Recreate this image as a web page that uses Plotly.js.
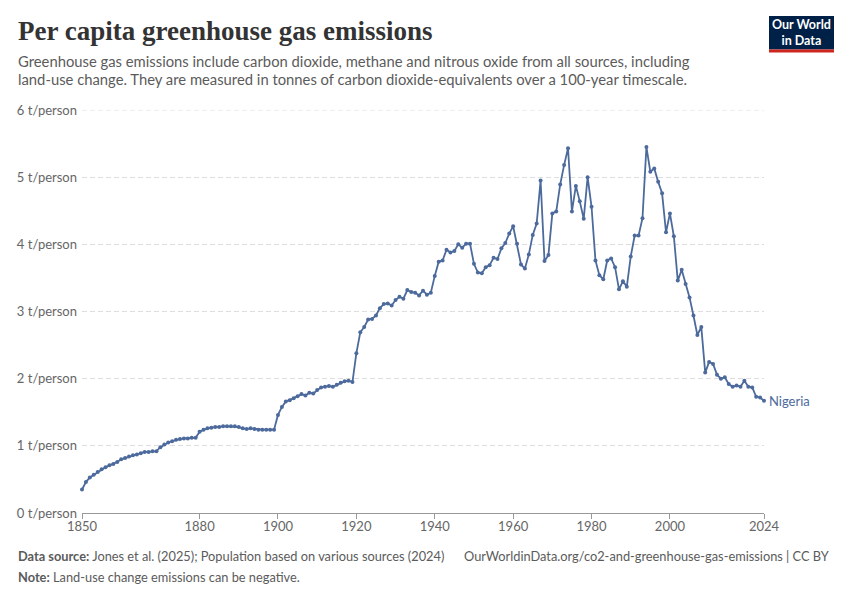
<!DOCTYPE html>
<html>
<head>
<meta charset="utf-8">
<script src="https://cdn.plot.ly/plotly-3.0.1.min.js"></script>
<style>
  html, body { margin: 0; padding: 0; background: #fff; }
  #chart { width: 850px; height: 600px; }
</style>
</head>
<body>
<div id="chart"></div>
<script>
// ---- Data ----
const years = [
  1850,1851,1852,1853,1854,1855,1856,1857,1858,1859,
  1860,1861,1862,1863,1864,1865,1866,1867,1868,1869,
  1870,1871,1872,1873,1874,1875,1876,1877,1878,1879,
  1880,1881,1882,1883,1884,1885,1886,1887,1888,1889,
  1890,1891,1892,1893,1894,1895,1896,1897,1898,1899,
  1900,1901,1902,1903,1904,1905,1906,1907,1908,1909,
  1910,1911,1912,1913,1914,1915,1916,1917,1918,1919,
  1920,1921,1922,1923,1924,1925,1926,1927,1928,1929,
  1930,1931,1932,1933,1934,1935,1936,1937,1938,1939,
  1940,1941,1942,1943,1944,1945,1946,1947,1948,1949,
  1950,1951,1952,1953,1954,1955,1956,1957,1958,1959,
  1960,1961,1962,1963,1964,1965,1966,1967,1968,1969,
  1970,1971,1972,1973,1974,1975,1976,1977,1978,1979,
  1980,1981,1982,1983,1984,1985,1986,1987,1988,1989,
  1990,1991,1992,1993,1994,1995,1996,1997,1998,1999,
  2000,2001,2002,2003,2004,2005,2006,2007,2008,2009,
  2010,2011,2012,2013,2014,2015,2016,2017,2018,2019,
  2020,2021,2022,2023,2024
];
const nigeria = [
  0.35,0.46,0.53,0.57,0.61,0.65,0.68,0.71,0.73,0.76,
  0.80,0.82,0.84,0.86,0.87,0.89,0.91,0.91,0.92,0.92,
  0.98,1.02,1.05,1.07,1.09,1.10,1.11,1.11,1.12,1.12,
  1.21,1.24,1.26,1.27,1.28,1.28,1.29,1.29,1.29,1.29,
  1.28,1.26,1.25,1.26,1.25,1.24,1.24,1.24,1.24,1.24,
  1.46,1.58,1.66,1.68,1.71,1.74,1.77,1.75,1.79,1.78,
  1.83,1.87,1.88,1.89,1.88,1.91,1.94,1.96,1.97,1.95,
  2.38,2.69,2.77,2.88,2.89,2.94,3.05,3.11,3.12,3.09,
  3.17,3.22,3.19,3.32,3.29,3.28,3.24,3.31,3.25,3.28,
  3.53,3.74,3.76,3.92,3.88,3.90,4.00,3.95,4.01,4.01,
  3.71,3.58,3.57,3.66,3.69,3.80,3.78,3.94,4.02,4.16,
  4.27,4.01,3.70,3.64,3.85,4.14,4.31,4.95,3.75,3.84,
  4.46,4.49,4.89,5.18,5.43,4.49,4.87,4.64,4.38,5.00,
  4.56,3.76,3.54,3.48,3.76,3.79,3.66,3.33,3.45,3.37,
  3.82,4.13,4.13,4.39,5.45,5.08,5.13,4.93,4.76,4.18,
  4.46,4.12,3.46,3.62,3.41,3.21,2.94,2.65,2.77,2.09,
  2.25,2.22,2.06,2.00,2.02,1.92,1.88,1.90,1.88,1.97,
  1.88,1.87,1.73,1.72,1.67
];
const xTickVals = [1850,1880,1900,1920,1940,1960,1980,2000,2024];
const yTickVals = [0,1,2,3,4,5,6];
const yTickText = ["0 t/person","1 t/person","2 t/person","3 t/person","4 t/person","5 t/person","6 t/person"];
const seriesName = "Nigeria";

// ---- Layout helpers (pixel -> paper) ----
const W = 850, H = 600;
const M = {l: 82, r: 86, t: 110, b: 87};
const PW = W - M.l - M.r, PH = H - M.t - M.b;
const px = x => (x - M.l) / PW;
const py = y => (H - M.b - y) / PH;

const lineColor = "#4c6a9c";
const textGrey = "#5b5b5b";
const gridColor = "#dddddd";
const gridDash = "5px,3px";
const FONT = "Lato, 'Noto Sans', sans-serif";

const trace = {
  x: years, y: nigeria, type: "scatter", mode: "lines+markers",
  name: seriesName,
  line: {color: lineColor, width: 1.8},
  marker: {color: lineColor, size: 4},
  cliponaxis: false,
  hoverinfo: "x+y"
};

const annotations = [
  {xref:"paper", yref:"paper", x: px(16), y: py(14), xanchor:"left", yanchor:"top",
   text:"Per capita greenhouse gas emissions", showarrow:false,
   font:{family:"'Liberation Serif', 'DejaVu Serif', serif", size:27, color:"#333333", weight:700}},
  {xref:"paper", yref:"paper", x: px(16), y: py(61), xanchor:"left", yanchor:"middle",
   text:"Greenhouse gas emissions include carbon dioxide, methane and nitrous oxide from all sources, including", showarrow:false,
   font:{family:FONT, size:14.8, color:textGrey}},
  {xref:"paper", yref:"paper", x: px(16), y: py(79), xanchor:"left", yanchor:"middle",
   text:"land-use change. They are measured in tonnes of carbon dioxide-equivalents over a 100-year timescale.", showarrow:false,
   font:{family:FONT, size:14.8, color:textGrey}},
  {xref:"paper", yref:"paper", x: px(16), y: py(556), xanchor:"left", yanchor:"middle",
   text:"<b>Data source:</b> Jones et al. (2025); Population based on various sources (2024)", showarrow:false,
   font:{family:FONT, size:12.8, color:textGrey}},
  {xref:"paper", yref:"paper", x: px(831), y: py(556), xanchor:"right", yanchor:"middle",
   text:"OurWorldinData.org/co2-and-greenhouse-gas-emissions | CC BY", showarrow:false,
   font:{family:FONT, size:12.8, color:textGrey}},
  {xref:"paper", yref:"paper", x: px(16), y: py(577), xanchor:"left", yanchor:"middle",
   text:"<b>Note:</b> Land-use change emissions can be negative.", showarrow:false,
   font:{family:FONT, size:12.8, color:textGrey}},
  // logo text
  {xref:"paper", yref:"paper", x: px(801.5), y: py(32.5), xanchor:"center", yanchor:"middle",
   text:"<b>Our World</b><br><b>in Data</b>", showarrow:false,
   font:{family:FONT, size:12.5, color:"#ffffff"}},
  // series label
  {x: years[years.length-1], y: nigeria[nigeria.length-1], xref:"x", yref:"y",
   xanchor:"left", yanchor:"middle", xshift:3, text: seriesName, showarrow:false,
   font:{family:FONT, size:13, color:lineColor}}
];

const shapes = [
  // top gridline (Plotly drops the gridline at the range edge)
  {type:"line", xref:"paper", yref:"y", x0:0, x1:1, y0:yTickVals[yTickVals.length-1], y1:yTickVals[yTickVals.length-1],
   line:{color:gridColor, width:1, dash:gridDash}, layer:"below"},
  {type:"rect", xref:"paper", yref:"paper", x0:px(769), x1:px(834), y0:py(16), y1:py(49.5),
   fillcolor:"#002147", line:{width:0}, layer:"above"},
  {type:"rect", xref:"paper", yref:"paper", x0:px(769), x1:px(834), y0:py(49.5), y1:py(52.5),
   fillcolor:"#ce261e", line:{width:0}, layer:"above"}
];

const layout = {
  width: W, height: H,
  margin: M,
  paper_bgcolor: "#ffffff", plot_bgcolor: "#ffffff",
  showlegend: false,
  font: {family: FONT, color: "#666666"},
  xaxis: {
    range: [1850, 2024], tickmode:"array", tickvals: xTickVals,
    ticks:"outside", ticklen:5, tickcolor:"#999999", tickwidth:1,
    showline:true, linecolor:"#999999", linewidth:1,
    showgrid:false, zeroline:false,
    tickfont:{family:FONT, size:13, color:"#666666"},
    ticklabelstandoff: -4,
    fixedrange:true
  },
  yaxis: {
    range: [0, 6], tickmode:"array", tickvals: yTickVals, ticktext: yTickText,
    ticks:"", showline:false, zeroline:false,
    showgrid:true, gridcolor:gridColor, griddash:gridDash, gridwidth:1,
    tickfont:{family:FONT, size:13, color:"#666666"},
    ticklabelstandoff: 4,
    fixedrange:true
  },
  annotations: annotations,
  shapes: shapes
};

Plotly.newPlot("chart", [trace], layout, {displayModeBar:false, staticPlot:true});
</script>
</body>
</html>
